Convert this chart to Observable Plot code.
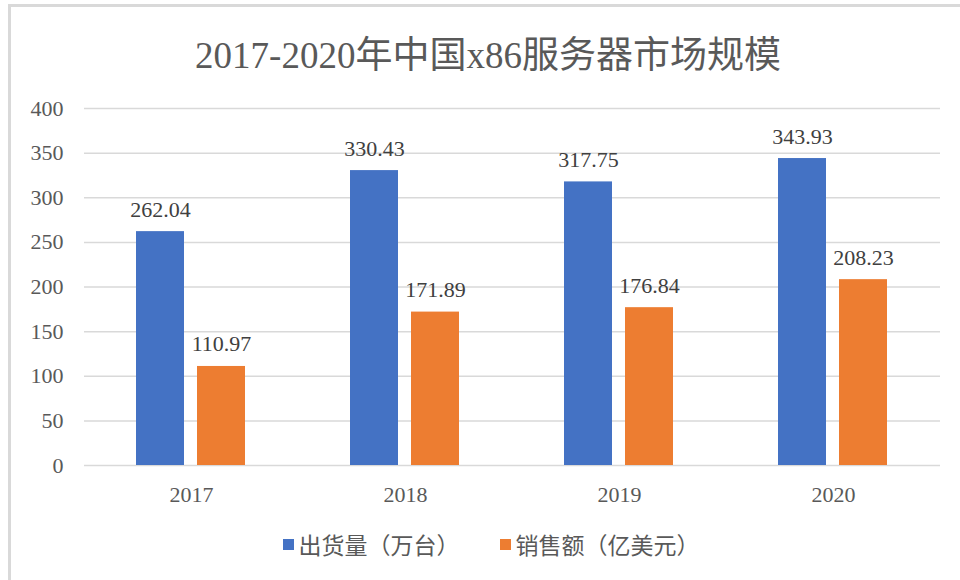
<!DOCTYPE html>
<html>
<head>
<meta charset="utf-8">
<script src="https://cdn.jsdelivr.net/npm/d3@7"></script>
<script src="https://cdn.jsdelivr.net/npm/@observablehq/plot@0.6"></script>
<style>
  html, body { margin: 0; padding: 0; background: #fff; }
  #frame { position: absolute; left: 8px; top: 4px; width: 960px; height: 580px;
           border-top: 3px solid #d9d9d9; border-left: 3px solid #d9d9d9; box-sizing: border-box; }
  #title { position: absolute; left: 0; top: 25px; width: 976px; text-align: center;
           font-family: "Liberation Serif", "Times New Roman", "DejaVu Serif", "Noto Sans CJK SC", serif; font-size: 37px; color: #595959; }
  #chart { position: absolute; left: 0; top: 90px; }
  #legend { position: absolute; left: 0; top: 527px; width: 982px; display: flex; justify-content: center;
            gap: 40px; font-family: "Liberation Serif", "Times New Roman", "Noto Sans CJK SC", serif; font-size: 23px; color: #595959; }
  .item { display: flex; align-items: center; gap: 5px; }
  .sw { width: 11px; height: 11px; display: inline-block; }
</style>
</head>
<body>
<div id="frame"></div>
<div id="title">2017-2020年中国x86服务器市场规模</div>
<div id="chart"></div>
<div id="legend"></div>
<script>
const years = ["2017", "2018", "2019", "2020"];
const seriesNames = ["出货量（万台）", "销售额（亿美元）"];
const shipments = [262.04, 330.43, 317.75, 343.93];
const sales = [110.97, 171.89, 176.84, 208.23];
const colors = ["#4472C4", "#ED7D31"];
const yTicks = [0, 50, 100, 150, 200, 250, 300, 350, 400];

const data = [];
years.forEach((y, i) => {
  data.push({year: y, series: seriesNames[0], value: shipments[i]});
  data.push({year: y, series: seriesNames[1], value: sales[i]});
});

const fmt = d3.format(".2f");
const serif = "'Liberation Serif', 'Times New Roman', 'DejaVu Serif', serif";

const plot = Plot.plot({
  width: 960,
  height: 430,
  marginTop: 18,
  marginBottom: 55,
  marginLeft: 84,
  marginRight: 20,
  style: {fontFamily: serif, fontSize: "22px", color: "#595959", background: "transparent"},
  fx: {domain: years, padding: 0, label: null, axis: "bottom", tickSize: 0, tickPadding: 21},
  x: {domain: seriesNames, paddingInner: 0.213, paddingOuter: 0.86, axis: null},
  y: {domain: [0, 400], ticks: yTicks, label: null, tickSize: 0, tickPadding: 21, grid: false},
  color: {domain: seriesNames, range: colors},
  marks: [
    Plot.ruleY(yTicks, {stroke: "#d9d9d9", strokeWidth: 1.5, strokeOpacity: 1}),
    Plot.barY(data, {fx: "year", x: "series", y: "value", fill: "series"}),
    Plot.text(data, {fx: "year", x: "series", y: "value", text: d => fmt(d.value),
      lineAnchor: "bottom", dy: -15, fill: "#404040", fontSize: 22, fontFamily: serif})
  ]
});
document.getElementById("chart").appendChild(plot);

const legend = document.getElementById("legend");
seriesNames.forEach((s, i) => {
  const item = document.createElement("div");
  item.className = "item";
  const sw = document.createElement("span");
  sw.className = "sw";
  sw.style.background = colors[i];
  const label = document.createElement("span");
  label.textContent = s;
  item.appendChild(sw);
  item.appendChild(label);
  legend.appendChild(item);
});
</script>
</body>
</html>
